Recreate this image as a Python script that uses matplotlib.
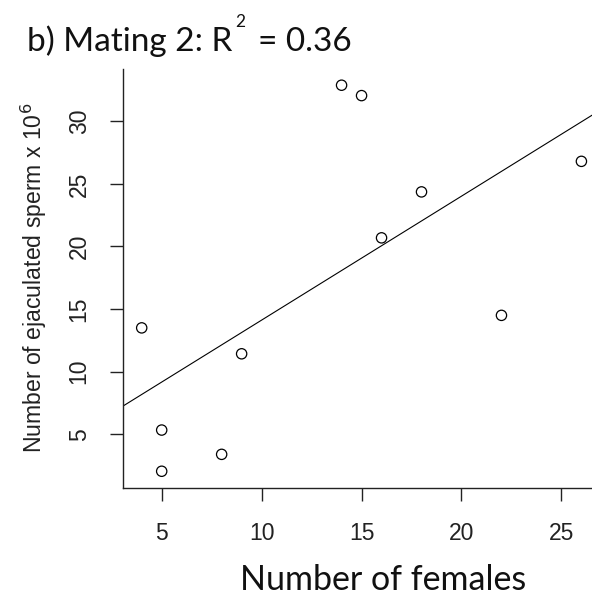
import numpy as np
import matplotlib
matplotlib.use("Agg")
import matplotlib.pyplot as plt

# Mating 2 observations
n_females = [4, 5, 5, 8, 9, 14, 15, 16, 18, 22, 26]
sperm_millions = [13.5, 5.34, 2.05, 3.4, 11.43, 32.88, 32.05, 20.69, 24.36, 14.5, 26.8]
x_ticks = [5, 10, 15, 20, 25]
y_ticks = [5, 10, 15, 20, 25, 30]
r_squared = "0.36"

fig = plt.figure(figsize=(5.92, 5.98), dpi=100)
ax = fig.add_axes([0.2083, 0.1839, 0.7917, 0.7002])

ax.scatter(n_females, sperm_millions, s=55, facecolors="none",
           edgecolors="black", linewidths=0.9, zorder=3, clip_on=False)

# least-squares fit line spanning the full x range
slope, intercept = np.polyfit(n_females, sperm_millions, 1)
xlim = (3.08, 26.53)
xs = np.array(xlim)
ax.plot(xs, intercept + slope * xs, color="black", lw=0.8)

ax.set_xlim(*xlim)
ax.set_ylim(0.71, 34.15)
ax.set_xticks(x_ticks)
ax.set_yticks(y_ticks)

for side in ("top", "right"):
    ax.spines[side].set_visible(False)
for side in ("left", "bottom"):
    ax.spines[side].set_linewidth(1.0)
    ax.spines[side].set_color("#222222")

arial = "Liberation Sans"
ax.tick_params(axis="both", length=9.5, width=1.0, color="#222222",
               labelsize=16.5, labelcolor="#222222")
ax.tick_params(axis="x", pad=15)
ax.tick_params(axis="y", pad=14)
for lbl in ax.get_xticklabels():
    lbl.set_fontfamily(arial)
for lbl in ax.get_yticklabels():
    lbl.set_fontfamily(arial)
    lbl.set_rotation(90)
    lbl.set_verticalalignment("center")

fig.text(0.057, 0.535, r"Number of ejaculated sperm x 10$^{6}$", rotation=90,
         ha="center", va="center", fontsize=16.6, family=arial, color="#222222")

fig.text(0.648, 0.0134, "Number of females", ha="center", va="baseline",
         fontsize=24.5, family="Lato", color="#111111")

fig.text(0.045, 0.914, "b) Mating 2: R", ha="left", va="baseline",
         fontsize=24, family="Lato", color="#111111")
fig.text(0.397, 0.955, "2", ha="left", va="baseline",
         fontsize=12.5, family="Lato", color="#111111")
fig.text(0.436, 0.914, "= " + r_squared, ha="left", va="baseline",
         fontsize=24, family="Lato", color="#111111")

fig.savefig("out.png", dpi=100)
